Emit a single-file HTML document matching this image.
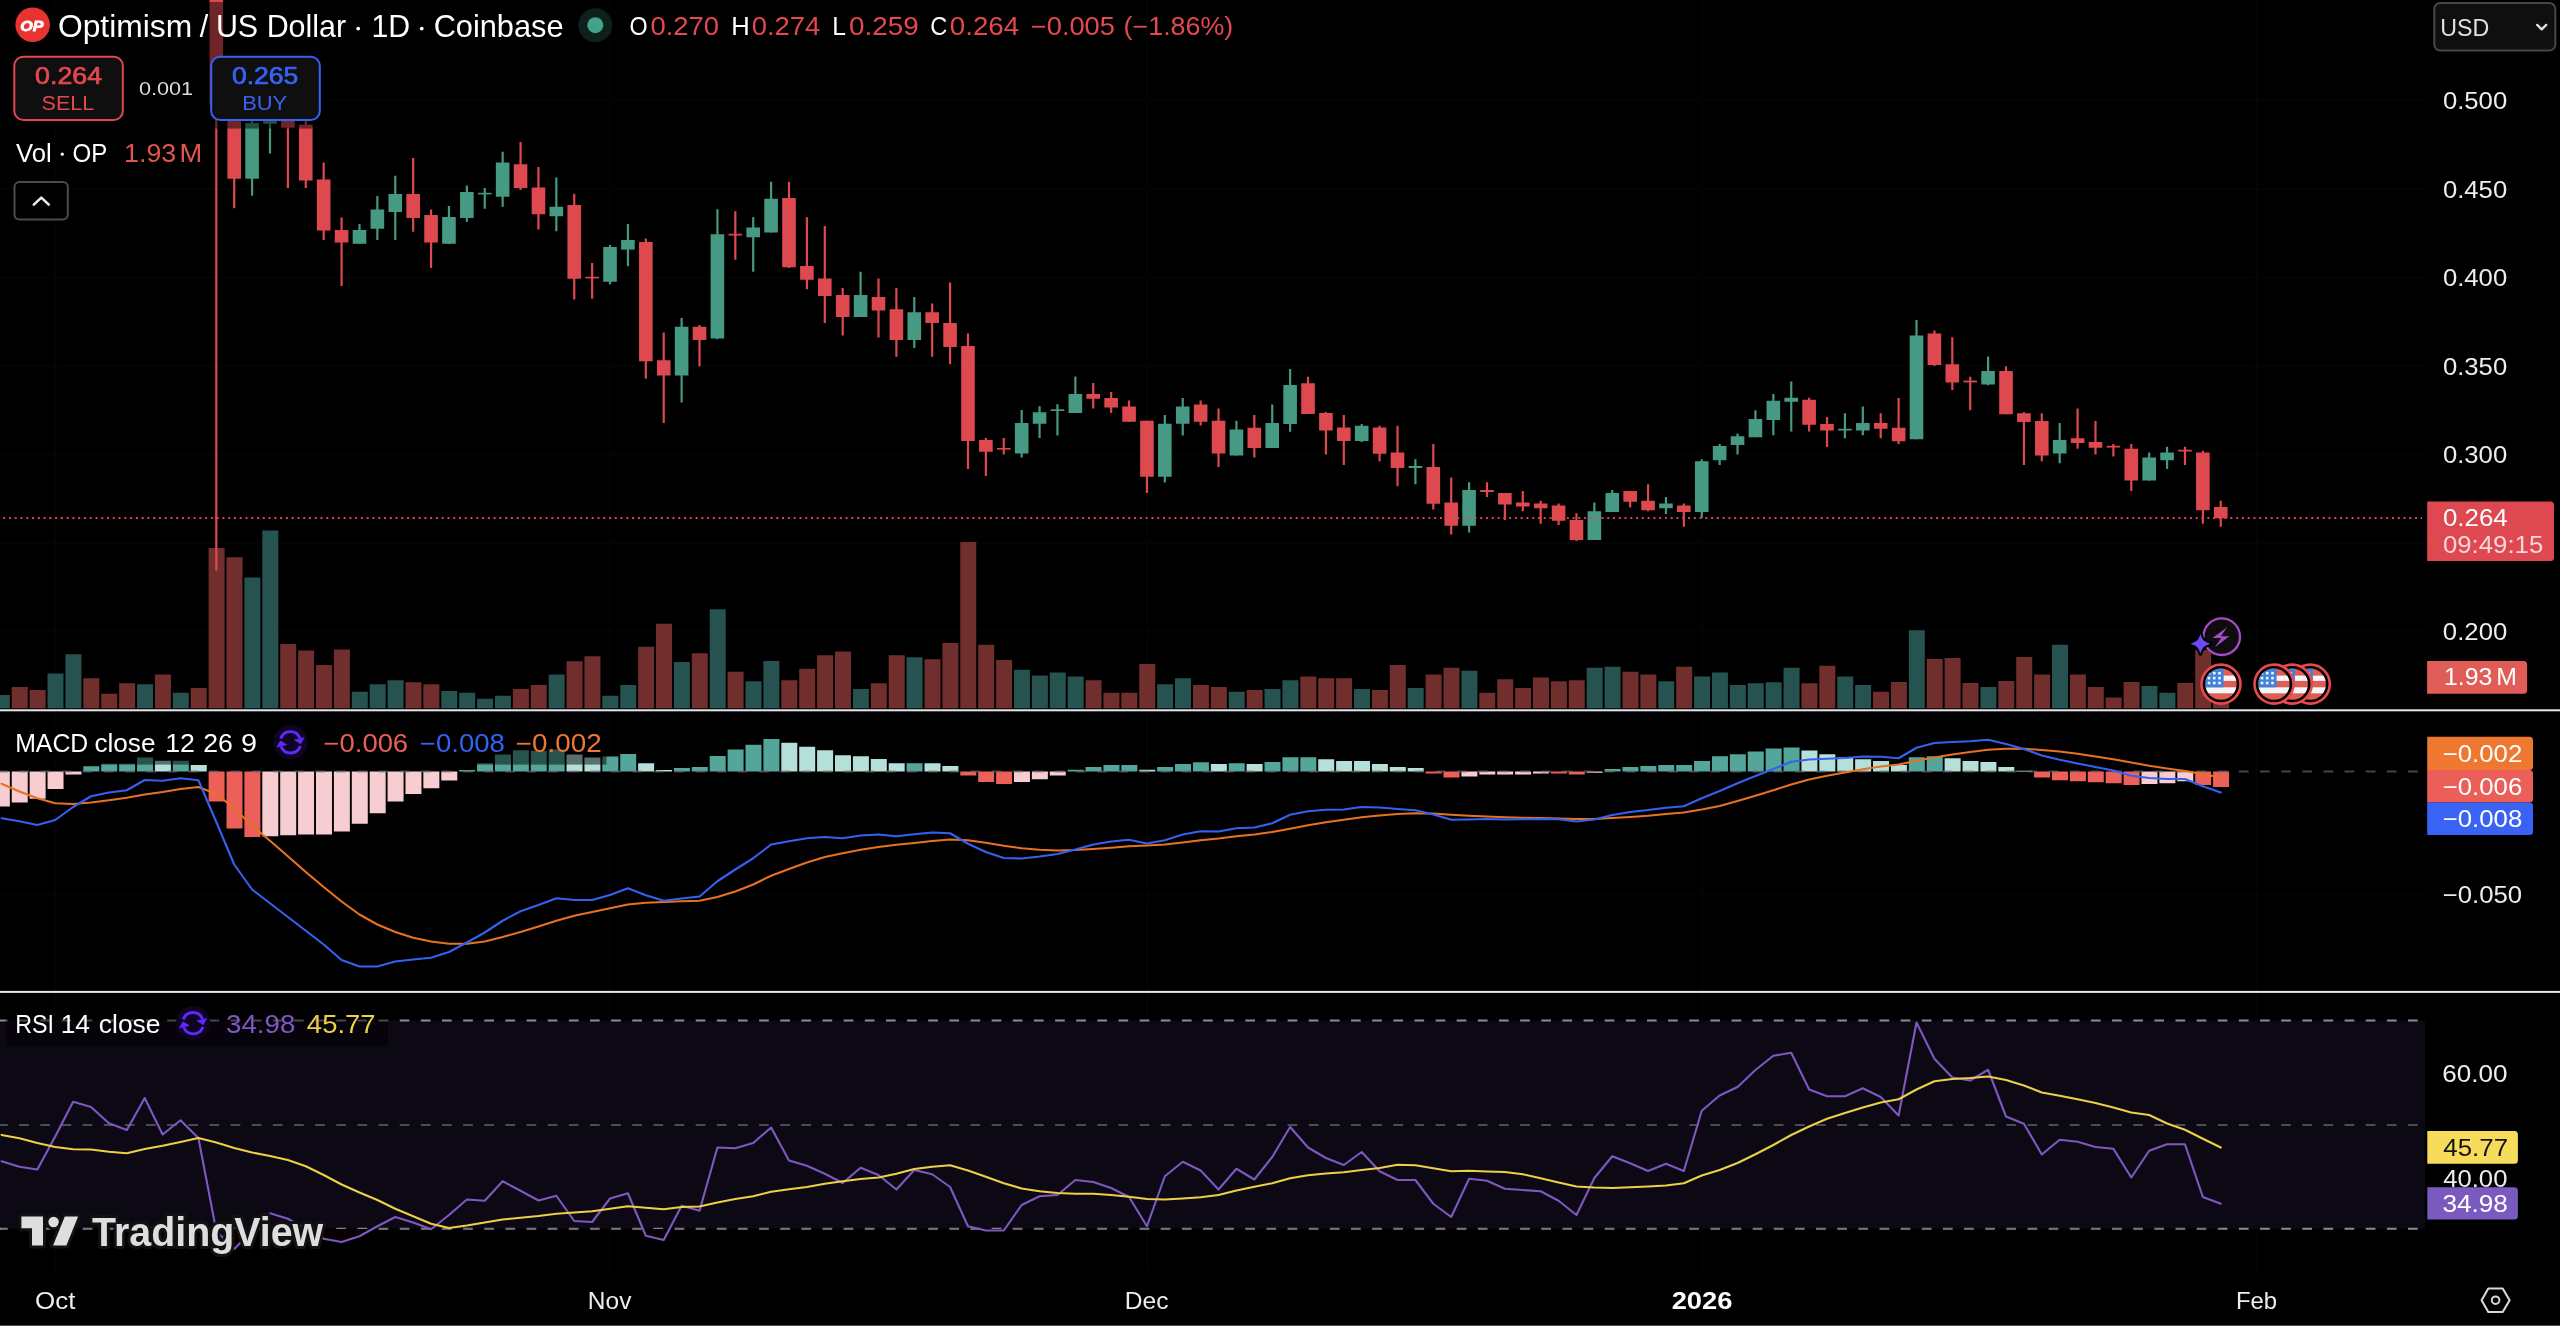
<!DOCTYPE html>
<html><head><meta charset="utf-8"><title>OPUSD chart</title>
<style>html,body{margin:0;padding:0;background:#000;width:2560px;height:1330px;overflow:hidden}svg{display:block;position:absolute;left:0;top:0;will-change:transform}text{font-family:"Liberation Sans",sans-serif;white-space:pre}</style>
</head><body>
<svg width="2560" height="1330" viewBox="0 0 2560 1330" font-family="Liberation Sans, sans-serif">
<rect width="2560" height="1330" fill="#000"/>
<g stroke="#030504" stroke-width="2"><line x1="0" x2="2425" y1="100.6" y2="100.6"/><line x1="0" x2="2425" y1="189.1" y2="189.1"/><line x1="0" x2="2425" y1="277.6" y2="277.6"/><line x1="0" x2="2425" y1="366.1" y2="366.1"/><line x1="0" x2="2425" y1="454.6" y2="454.6"/><line x1="0" x2="2425" y1="543.1" y2="543.1"/><line x1="0" x2="2425" y1="631.6" y2="631.6"/><line x1="0" x2="2425" y1="895.5" y2="895.5"/><line x1="0" x2="2425" y1="1073" y2="1073"/><line x1="0" x2="2425" y1="1177" y2="1177"/><line x1="55.23" x2="55.23" y1="0" y2="1270"/><line x1="610.03" x2="610.03" y1="0" y2="1270"/><line x1="1146.94" x2="1146.94" y1="0" y2="1270"/><line x1="1701.75" x2="1701.75" y1="0" y2="1270"/><line x1="2256.56" x2="2256.56" y1="0" y2="1270"/></g>
<rect x="0" y="1020.6" width="2425.3" height="208.1" fill="#0c0914"/>
<g><rect x="-6.16" y="695" width="16" height="13.3" fill="#265250"/><rect x="11.73" y="687" width="16" height="21.3" fill="#702e2c"/><rect x="29.63" y="690" width="16" height="18.3" fill="#702e2c"/><rect x="47.53" y="673.5" width="16" height="34.8" fill="#265250"/><rect x="65.42" y="654.25" width="16" height="54.05" fill="#265250"/><rect x="83.32" y="678.25" width="16" height="30.05" fill="#702e2c"/><rect x="101.22" y="693.75" width="16" height="14.55" fill="#702e2c"/><rect x="119.12" y="683.25" width="16" height="25.05" fill="#702e2c"/><rect x="137.01" y="684.25" width="16" height="24.05" fill="#265250"/><rect x="154.91" y="674.5" width="16" height="33.8" fill="#702e2c"/><rect x="172.81" y="692.75" width="16" height="15.55" fill="#265250"/><rect x="190.7" y="688" width="16" height="20.3" fill="#702e2c"/><rect x="208.6" y="548" width="16" height="160.3" fill="#702e2c"/><rect x="226.5" y="557.25" width="16" height="151.05" fill="#702e2c"/><rect x="244.39" y="577.5" width="16" height="130.8" fill="#265250"/><rect x="262.29" y="530.5" width="16" height="177.8" fill="#265250"/><rect x="280.19" y="644" width="16" height="64.3" fill="#702e2c"/><rect x="298.08" y="650.5" width="16" height="57.8" fill="#702e2c"/><rect x="315.98" y="665" width="16" height="43.3" fill="#702e2c"/><rect x="333.88" y="649.5" width="16" height="58.8" fill="#702e2c"/><rect x="351.78" y="691.75" width="16" height="16.55" fill="#265250"/><rect x="369.67" y="684.25" width="16" height="24.05" fill="#265250"/><rect x="387.57" y="680.25" width="16" height="28.05" fill="#265250"/><rect x="405.47" y="682.25" width="16" height="26.05" fill="#702e2c"/><rect x="423.36" y="684.25" width="16" height="24.05" fill="#702e2c"/><rect x="441.26" y="691" width="16" height="17.3" fill="#265250"/><rect x="459.16" y="692.75" width="16" height="15.55" fill="#265250"/><rect x="477.06" y="698.75" width="16" height="9.55" fill="#265250"/><rect x="494.95" y="695.75" width="16" height="12.55" fill="#265250"/><rect x="512.85" y="689" width="16" height="19.3" fill="#702e2c"/><rect x="530.75" y="685" width="16" height="23.3" fill="#702e2c"/><rect x="548.64" y="674.5" width="16" height="33.8" fill="#265250"/><rect x="566.54" y="661.25" width="16" height="47.05" fill="#702e2c"/><rect x="584.44" y="656.25" width="16" height="52.05" fill="#702e2c"/><rect x="602.33" y="695.75" width="16" height="12.55" fill="#265250"/><rect x="620.23" y="685" width="16" height="23.3" fill="#265250"/><rect x="638.13" y="646.75" width="16" height="61.55" fill="#702e2c"/><rect x="656.02" y="623.75" width="16" height="84.55" fill="#702e2c"/><rect x="673.92" y="662" width="16" height="46.3" fill="#265250"/><rect x="691.82" y="653.25" width="16" height="55.05" fill="#702e2c"/><rect x="709.72" y="609.25" width="16" height="99.05" fill="#265250"/><rect x="727.61" y="671.75" width="16" height="36.55" fill="#702e2c"/><rect x="745.51" y="681.25" width="16" height="27.05" fill="#265250"/><rect x="763.41" y="661" width="16" height="47.3" fill="#265250"/><rect x="781.3" y="680.25" width="16" height="28.05" fill="#702e2c"/><rect x="799.2" y="668.75" width="16" height="39.55" fill="#702e2c"/><rect x="817.1" y="655.25" width="16" height="53.05" fill="#702e2c"/><rect x="834.99" y="651.5" width="16" height="56.8" fill="#702e2c"/><rect x="852.89" y="689" width="16" height="19.3" fill="#265250"/><rect x="870.79" y="683.25" width="16" height="25.05" fill="#702e2c"/><rect x="888.69" y="655.25" width="16" height="53.05" fill="#702e2c"/><rect x="906.58" y="657.25" width="16" height="51.05" fill="#265250"/><rect x="924.48" y="659.25" width="16" height="49.05" fill="#702e2c"/><rect x="942.38" y="643" width="16" height="65.3" fill="#702e2c"/><rect x="960.27" y="542" width="16" height="166.3" fill="#702e2c"/><rect x="978.17" y="644.75" width="16" height="63.55" fill="#702e2c"/><rect x="996.07" y="660" width="16" height="48.3" fill="#702e2c"/><rect x="1013.96" y="669.75" width="16" height="38.55" fill="#265250"/><rect x="1031.86" y="675.5" width="16" height="32.8" fill="#265250"/><rect x="1049.76" y="672.5" width="16" height="35.8" fill="#265250"/><rect x="1067.66" y="676.5" width="16" height="31.8" fill="#265250"/><rect x="1085.55" y="680.25" width="16" height="28.05" fill="#702e2c"/><rect x="1103.45" y="692.75" width="16" height="15.55" fill="#702e2c"/><rect x="1121.35" y="692.75" width="16" height="15.55" fill="#702e2c"/><rect x="1139.24" y="664" width="16" height="44.3" fill="#702e2c"/><rect x="1157.14" y="684.25" width="16" height="24.05" fill="#265250"/><rect x="1175.04" y="678.25" width="16" height="30.05" fill="#265250"/><rect x="1192.93" y="685" width="16" height="23.3" fill="#702e2c"/><rect x="1210.83" y="687" width="16" height="21.3" fill="#702e2c"/><rect x="1228.73" y="691.75" width="16" height="16.55" fill="#265250"/><rect x="1246.63" y="690" width="16" height="18.3" fill="#702e2c"/><rect x="1264.52" y="689" width="16" height="19.3" fill="#265250"/><rect x="1282.42" y="680.25" width="16" height="28.05" fill="#265250"/><rect x="1300.32" y="676.5" width="16" height="31.8" fill="#702e2c"/><rect x="1318.21" y="678.25" width="16" height="30.05" fill="#702e2c"/><rect x="1336.11" y="678.25" width="16" height="30.05" fill="#702e2c"/><rect x="1354.01" y="689" width="16" height="19.3" fill="#265250"/><rect x="1371.9" y="690" width="16" height="18.3" fill="#702e2c"/><rect x="1389.8" y="665" width="16" height="43.3" fill="#702e2c"/><rect x="1407.7" y="688" width="16" height="20.3" fill="#265250"/><rect x="1425.6" y="674.5" width="16" height="33.8" fill="#702e2c"/><rect x="1443.49" y="667.75" width="16" height="40.55" fill="#702e2c"/><rect x="1461.39" y="670.75" width="16" height="37.55" fill="#265250"/><rect x="1479.29" y="692.75" width="16" height="15.55" fill="#702e2c"/><rect x="1497.18" y="679.25" width="16" height="29.05" fill="#702e2c"/><rect x="1515.08" y="688" width="16" height="20.3" fill="#702e2c"/><rect x="1532.98" y="677.5" width="16" height="30.8" fill="#702e2c"/><rect x="1550.87" y="681.25" width="16" height="27.05" fill="#702e2c"/><rect x="1568.77" y="680.25" width="16" height="28.05" fill="#702e2c"/><rect x="1586.67" y="667.75" width="16" height="40.55" fill="#265250"/><rect x="1604.57" y="666.75" width="16" height="41.55" fill="#265250"/><rect x="1622.46" y="671.75" width="16" height="36.55" fill="#702e2c"/><rect x="1640.36" y="674.5" width="16" height="33.8" fill="#702e2c"/><rect x="1658.26" y="681.25" width="16" height="27.05" fill="#265250"/><rect x="1676.15" y="666.75" width="16" height="41.55" fill="#702e2c"/><rect x="1694.05" y="676.5" width="16" height="31.8" fill="#265250"/><rect x="1711.95" y="672.5" width="16" height="35.8" fill="#265250"/><rect x="1729.84" y="685" width="16" height="23.3" fill="#265250"/><rect x="1747.74" y="683.25" width="16" height="25.05" fill="#265250"/><rect x="1765.64" y="682.25" width="16" height="26.05" fill="#265250"/><rect x="1783.54" y="667.75" width="16" height="40.55" fill="#265250"/><rect x="1801.43" y="683.25" width="16" height="25.05" fill="#702e2c"/><rect x="1819.33" y="665.75" width="16" height="42.55" fill="#702e2c"/><rect x="1837.23" y="676.5" width="16" height="31.8" fill="#265250"/><rect x="1855.12" y="685" width="16" height="23.3" fill="#265250"/><rect x="1873.02" y="691.75" width="16" height="16.55" fill="#702e2c"/><rect x="1890.92" y="682" width="16" height="26.3" fill="#702e2c"/><rect x="1908.81" y="630.25" width="16" height="78.05" fill="#265250"/><rect x="1926.71" y="659" width="16" height="49.3" fill="#702e2c"/><rect x="1944.61" y="658" width="16" height="50.3" fill="#702e2c"/><rect x="1962.51" y="683" width="16" height="25.3" fill="#702e2c"/><rect x="1980.4" y="687" width="16" height="21.3" fill="#265250"/><rect x="1998.3" y="681" width="16" height="27.3" fill="#702e2c"/><rect x="2016.2" y="657" width="16" height="51.3" fill="#702e2c"/><rect x="2034.09" y="674.5" width="16" height="33.8" fill="#702e2c"/><rect x="2051.99" y="644.75" width="16" height="63.55" fill="#265250"/><rect x="2069.89" y="674.5" width="16" height="33.8" fill="#702e2c"/><rect x="2087.79" y="687" width="16" height="21.3" fill="#702e2c"/><rect x="2105.68" y="697.5" width="16" height="10.8" fill="#702e2c"/><rect x="2123.58" y="682" width="16" height="26.3" fill="#702e2c"/><rect x="2141.48" y="686" width="16" height="22.3" fill="#265250"/><rect x="2159.37" y="692.75" width="16" height="15.55" fill="#265250"/><rect x="2177.27" y="683" width="16" height="25.3" fill="#702e2c"/><rect x="2195.17" y="650" width="16" height="58.3" fill="#702e2c"/><rect x="2213.06" y="677" width="16" height="31.3" fill="#702e2c"/></g>
<g><rect x="215.2" y="0" width="2.2" height="570.75" fill="#de4950"/><rect x="209.5" y="0" width="13.6" height="104.8" fill="#de4950"/><rect x="233.1" y="92" width="2.2" height="116.2" fill="#de4950"/><rect x="227.4" y="100" width="13.6" height="78.75" fill="#de4950"/><rect x="250.99" y="108" width="2.2" height="87.6" fill="#469a83"/><rect x="245.29" y="123.1" width="13.6" height="55.6" fill="#469a83"/><rect x="268.89" y="104" width="2.2" height="49.6" fill="#469a83"/><rect x="263.19" y="112" width="13.6" height="11.8" fill="#469a83"/><rect x="286.79" y="98" width="2.2" height="90" fill="#de4950"/><rect x="281.09" y="105" width="13.6" height="22.7" fill="#de4950"/><rect x="304.68" y="114" width="2.2" height="74" fill="#de4950"/><rect x="298.98" y="124.6" width="13.6" height="55.9" fill="#de4950"/><rect x="322.58" y="162.5" width="2.2" height="77.5" fill="#de4950"/><rect x="316.88" y="179.5" width="13.6" height="51" fill="#de4950"/><rect x="340.48" y="217.5" width="2.2" height="68.5" fill="#de4950"/><rect x="334.78" y="230" width="13.6" height="12.5" fill="#de4950"/><rect x="358.38" y="224" width="2.2" height="19.75" fill="#469a83"/><rect x="352.68" y="230" width="13.6" height="13.75" fill="#469a83"/><rect x="376.27" y="196" width="2.2" height="44" fill="#469a83"/><rect x="370.57" y="209.5" width="13.6" height="19.25" fill="#469a83"/><rect x="394.17" y="175.75" width="2.2" height="64.25" fill="#469a83"/><rect x="388.47" y="194" width="13.6" height="18" fill="#469a83"/><rect x="412.07" y="158" width="2.2" height="73.75" fill="#de4950"/><rect x="406.37" y="194" width="13.6" height="24" fill="#de4950"/><rect x="429.96" y="209.5" width="2.2" height="58.5" fill="#de4950"/><rect x="424.26" y="215" width="13.6" height="27.5" fill="#de4950"/><rect x="447.86" y="206" width="2.2" height="37.75" fill="#469a83"/><rect x="442.16" y="217" width="13.6" height="26.75" fill="#469a83"/><rect x="465.76" y="185.5" width="2.2" height="36.25" fill="#469a83"/><rect x="460.06" y="192" width="13.6" height="26" fill="#469a83"/><rect x="483.65" y="188" width="2.2" height="20.75" fill="#469a83"/><rect x="477.95" y="192.8" width="13.6" height="1.6" fill="#469a83"/><rect x="501.55" y="151.75" width="2.2" height="55" fill="#469a83"/><rect x="495.85" y="162.5" width="13.6" height="34.25" fill="#469a83"/><rect x="519.45" y="142" width="2.2" height="48" fill="#de4950"/><rect x="513.75" y="164.25" width="13.6" height="23.75" fill="#de4950"/><rect x="537.35" y="167" width="2.2" height="62.5" fill="#de4950"/><rect x="531.65" y="187.5" width="13.6" height="26.75" fill="#de4950"/><rect x="555.24" y="177.5" width="2.2" height="53.75" fill="#469a83"/><rect x="549.54" y="206.75" width="13.6" height="9.5" fill="#469a83"/><rect x="573.14" y="193.75" width="2.2" height="105.75" fill="#de4950"/><rect x="567.44" y="205" width="13.6" height="73.75" fill="#de4950"/><rect x="591.04" y="263" width="2.2" height="35.75" fill="#de4950"/><rect x="585.34" y="276.8" width="13.6" height="1.6" fill="#de4950"/><rect x="608.93" y="245" width="2.2" height="39.25" fill="#469a83"/><rect x="603.23" y="247" width="13.6" height="34.75" fill="#469a83"/><rect x="626.83" y="224" width="2.2" height="42.1" fill="#469a83"/><rect x="621.13" y="240" width="13.6" height="9.6" fill="#469a83"/><rect x="644.73" y="238.5" width="2.2" height="140.25" fill="#de4950"/><rect x="639.03" y="242" width="13.6" height="119.25" fill="#de4950"/><rect x="662.62" y="332.5" width="2.2" height="90.5" fill="#de4950"/><rect x="656.92" y="360.25" width="13.6" height="15.25" fill="#de4950"/><rect x="680.52" y="318" width="2.2" height="84.5" fill="#469a83"/><rect x="674.82" y="326.75" width="13.6" height="48.75" fill="#469a83"/><rect x="698.42" y="325" width="2.2" height="41.25" fill="#de4950"/><rect x="692.72" y="326.75" width="13.6" height="13.25" fill="#de4950"/><rect x="716.32" y="209.25" width="2.2" height="130" fill="#469a83"/><rect x="710.62" y="234.25" width="13.6" height="104.25" fill="#469a83"/><rect x="734.21" y="211.25" width="2.2" height="48.5" fill="#de4950"/><rect x="728.51" y="233.8" width="13.6" height="1.7" fill="#de4950"/><rect x="752.11" y="217.25" width="2.2" height="54.5" fill="#469a83"/><rect x="746.41" y="227.5" width="13.6" height="9.75" fill="#469a83"/><rect x="770.01" y="181.75" width="2.2" height="50.75" fill="#469a83"/><rect x="764.31" y="198.75" width="13.6" height="33.75" fill="#469a83"/><rect x="787.9" y="181.75" width="2.2" height="86.25" fill="#de4950"/><rect x="782.2" y="198" width="13.6" height="69.25" fill="#de4950"/><rect x="805.8" y="217.25" width="2.2" height="72" fill="#de4950"/><rect x="800.1" y="266" width="13.6" height="13.75" fill="#de4950"/><rect x="823.7" y="226" width="2.2" height="97" fill="#de4950"/><rect x="818" y="278.5" width="13.6" height="17.5" fill="#de4950"/><rect x="841.59" y="288" width="2.2" height="47.5" fill="#de4950"/><rect x="835.89" y="295" width="13.6" height="22" fill="#de4950"/><rect x="859.49" y="271.75" width="2.2" height="45.25" fill="#469a83"/><rect x="853.79" y="295" width="13.6" height="22" fill="#469a83"/><rect x="877.39" y="278.5" width="2.2" height="59" fill="#de4950"/><rect x="871.69" y="297" width="13.6" height="13.5" fill="#de4950"/><rect x="895.29" y="288" width="2.2" height="68.75" fill="#de4950"/><rect x="889.59" y="309.25" width="13.6" height="30.75" fill="#de4950"/><rect x="913.18" y="297" width="2.2" height="51" fill="#469a83"/><rect x="907.48" y="312.25" width="13.6" height="27.75" fill="#469a83"/><rect x="931.08" y="303.5" width="2.2" height="53.25" fill="#de4950"/><rect x="925.38" y="312.25" width="13.6" height="10.75" fill="#de4950"/><rect x="948.98" y="282.5" width="2.2" height="81.75" fill="#de4950"/><rect x="943.28" y="323" width="13.6" height="24" fill="#de4950"/><rect x="966.87" y="333.5" width="2.2" height="135.5" fill="#de4950"/><rect x="961.17" y="346" width="13.6" height="95" fill="#de4950"/><rect x="984.77" y="438" width="2.2" height="38" fill="#de4950"/><rect x="979.07" y="440" width="13.6" height="11.75" fill="#de4950"/><rect x="1002.67" y="438" width="2.2" height="16.5" fill="#de4950"/><rect x="996.97" y="448" width="13.6" height="1.6" fill="#de4950"/><rect x="1020.56" y="410" width="2.2" height="47.5" fill="#469a83"/><rect x="1014.87" y="423" width="13.6" height="30.5" fill="#469a83"/><rect x="1038.46" y="406.25" width="2.2" height="31.75" fill="#469a83"/><rect x="1032.76" y="412.25" width="13.6" height="11.5" fill="#469a83"/><rect x="1056.36" y="404.25" width="2.2" height="31.25" fill="#469a83"/><rect x="1050.66" y="409.3" width="13.6" height="1.7" fill="#469a83"/><rect x="1074.26" y="376.5" width="2.2" height="36.5" fill="#469a83"/><rect x="1068.56" y="394" width="13.6" height="19" fill="#469a83"/><rect x="1092.15" y="383" width="2.2" height="25.5" fill="#de4950"/><rect x="1086.45" y="394" width="13.6" height="4.75" fill="#de4950"/><rect x="1110.05" y="392" width="2.2" height="21" fill="#de4950"/><rect x="1104.35" y="398" width="13.6" height="9.5" fill="#de4950"/><rect x="1127.95" y="400.5" width="2.2" height="21.25" fill="#de4950"/><rect x="1122.25" y="406.5" width="13.6" height="15.25" fill="#de4950"/><rect x="1145.84" y="420.75" width="2.2" height="72.25" fill="#de4950"/><rect x="1140.14" y="420.75" width="13.6" height="56" fill="#de4950"/><rect x="1163.74" y="415" width="2.2" height="67.5" fill="#469a83"/><rect x="1158.04" y="423.75" width="13.6" height="53" fill="#469a83"/><rect x="1181.64" y="398" width="2.2" height="37.5" fill="#469a83"/><rect x="1175.94" y="406.5" width="13.6" height="17.25" fill="#469a83"/><rect x="1199.54" y="400.5" width="2.2" height="25" fill="#de4950"/><rect x="1193.84" y="404.5" width="13.6" height="17.25" fill="#de4950"/><rect x="1217.43" y="408.5" width="2.2" height="58.5" fill="#de4950"/><rect x="1211.73" y="420.75" width="13.6" height="32.75" fill="#de4950"/><rect x="1235.33" y="420.75" width="2.2" height="34.75" fill="#469a83"/><rect x="1229.63" y="429.5" width="13.6" height="26" fill="#469a83"/><rect x="1253.23" y="415" width="2.2" height="42.5" fill="#de4950"/><rect x="1247.53" y="427.75" width="13.6" height="20.25" fill="#de4950"/><rect x="1271.12" y="404.5" width="2.2" height="43.5" fill="#469a83"/><rect x="1265.42" y="423" width="13.6" height="25" fill="#469a83"/><rect x="1289.02" y="369" width="2.2" height="62.75" fill="#469a83"/><rect x="1283.32" y="385" width="13.6" height="39" fill="#469a83"/><rect x="1306.92" y="376.75" width="2.2" height="37.25" fill="#de4950"/><rect x="1301.22" y="383.25" width="13.6" height="30.75" fill="#de4950"/><rect x="1324.81" y="412" width="2.2" height="42.5" fill="#de4950"/><rect x="1319.11" y="413" width="13.6" height="17.5" fill="#de4950"/><rect x="1342.71" y="415" width="2.2" height="50" fill="#de4950"/><rect x="1337.01" y="427.5" width="13.6" height="13.5" fill="#de4950"/><rect x="1360.61" y="424" width="2.2" height="18" fill="#469a83"/><rect x="1354.91" y="425.75" width="13.6" height="15.25" fill="#469a83"/><rect x="1378.5" y="425.75" width="2.2" height="35.5" fill="#de4950"/><rect x="1372.8" y="427.5" width="13.6" height="26.25" fill="#de4950"/><rect x="1396.4" y="425.75" width="2.2" height="60.5" fill="#de4950"/><rect x="1390.7" y="452.5" width="13.6" height="15.5" fill="#de4950"/><rect x="1414.3" y="459.25" width="2.2" height="25" fill="#469a83"/><rect x="1408.6" y="466" width="13.6" height="2" fill="#469a83"/><rect x="1432.2" y="444" width="2.2" height="65.5" fill="#de4950"/><rect x="1426.5" y="467" width="13.6" height="36.75" fill="#de4950"/><rect x="1450.09" y="477.5" width="2.2" height="57" fill="#de4950"/><rect x="1444.39" y="502.5" width="13.6" height="23.25" fill="#de4950"/><rect x="1467.99" y="482.25" width="2.2" height="50.25" fill="#469a83"/><rect x="1462.29" y="490" width="13.6" height="35.75" fill="#469a83"/><rect x="1485.89" y="482.25" width="2.2" height="14.75" fill="#de4950"/><rect x="1480.19" y="490" width="13.6" height="2" fill="#de4950"/><rect x="1503.78" y="493" width="2.2" height="27" fill="#de4950"/><rect x="1498.08" y="493" width="13.6" height="11.5" fill="#de4950"/><rect x="1521.68" y="491" width="2.2" height="20.25" fill="#de4950"/><rect x="1515.98" y="502.5" width="13.6" height="4" fill="#de4950"/><rect x="1539.58" y="500.75" width="2.2" height="23" fill="#de4950"/><rect x="1533.88" y="503.5" width="13.6" height="4.75" fill="#de4950"/><rect x="1557.47" y="503.5" width="2.2" height="21.5" fill="#de4950"/><rect x="1551.77" y="505.5" width="13.6" height="15.25" fill="#de4950"/><rect x="1575.37" y="513.25" width="2.2" height="27.75" fill="#de4950"/><rect x="1569.67" y="520" width="13.6" height="20" fill="#de4950"/><rect x="1593.27" y="502.5" width="2.2" height="37.5" fill="#469a83"/><rect x="1587.57" y="511.25" width="13.6" height="28.75" fill="#469a83"/><rect x="1611.17" y="490" width="2.2" height="22" fill="#469a83"/><rect x="1605.47" y="493" width="13.6" height="19" fill="#469a83"/><rect x="1629.06" y="491" width="2.2" height="16.5" fill="#de4950"/><rect x="1623.36" y="491" width="13.6" height="10.75" fill="#de4950"/><rect x="1646.96" y="484.25" width="2.2" height="27" fill="#de4950"/><rect x="1641.26" y="500.75" width="13.6" height="9.5" fill="#de4950"/><rect x="1664.86" y="497" width="2.2" height="17" fill="#469a83"/><rect x="1659.16" y="503.5" width="13.6" height="4.75" fill="#469a83"/><rect x="1682.75" y="503.5" width="2.2" height="23.25" fill="#de4950"/><rect x="1677.05" y="505.5" width="13.6" height="6.5" fill="#de4950"/><rect x="1700.65" y="459.25" width="2.2" height="58.75" fill="#469a83"/><rect x="1694.95" y="461.25" width="13.6" height="50.75" fill="#469a83"/><rect x="1718.55" y="444" width="2.2" height="21" fill="#469a83"/><rect x="1712.85" y="446" width="13.6" height="14.25" fill="#469a83"/><rect x="1736.44" y="433.5" width="2.2" height="21" fill="#469a83"/><rect x="1730.74" y="436.25" width="13.6" height="8.75" fill="#469a83"/><rect x="1754.34" y="410.25" width="2.2" height="27" fill="#469a83"/><rect x="1748.64" y="419" width="13.6" height="18.25" fill="#469a83"/><rect x="1772.24" y="394" width="2.2" height="41.25" fill="#469a83"/><rect x="1766.54" y="400.75" width="13.6" height="19.25" fill="#469a83"/><rect x="1790.14" y="381.5" width="2.2" height="50" fill="#469a83"/><rect x="1784.44" y="397.75" width="13.6" height="4" fill="#469a83"/><rect x="1808.03" y="397.75" width="2.2" height="33.75" fill="#de4950"/><rect x="1802.33" y="399.75" width="13.6" height="25" fill="#de4950"/><rect x="1825.93" y="417" width="2.2" height="30" fill="#de4950"/><rect x="1820.23" y="424" width="13.6" height="6.5" fill="#de4950"/><rect x="1843.83" y="413.25" width="2.2" height="25" fill="#469a83"/><rect x="1838.13" y="428.8" width="13.6" height="1.7" fill="#469a83"/><rect x="1861.72" y="406.5" width="2.2" height="28.75" fill="#469a83"/><rect x="1856.02" y="423" width="13.6" height="7.5" fill="#469a83"/><rect x="1879.62" y="413.25" width="2.2" height="25" fill="#de4950"/><rect x="1873.92" y="423" width="13.6" height="5.75" fill="#de4950"/><rect x="1897.52" y="398" width="2.2" height="46" fill="#de4950"/><rect x="1891.82" y="427.75" width="13.6" height="13.5" fill="#de4950"/><rect x="1915.41" y="320" width="2.2" height="119.25" fill="#469a83"/><rect x="1909.71" y="335.5" width="13.6" height="103.75" fill="#469a83"/><rect x="1933.31" y="330.5" width="2.2" height="35.5" fill="#de4950"/><rect x="1927.61" y="333.5" width="13.6" height="31.5" fill="#de4950"/><rect x="1951.21" y="337.25" width="2.2" height="52.75" fill="#de4950"/><rect x="1945.51" y="364.25" width="13.6" height="18.25" fill="#de4950"/><rect x="1969.11" y="376.75" width="2.2" height="33.5" fill="#de4950"/><rect x="1963.41" y="380.6" width="13.6" height="1.8" fill="#de4950"/><rect x="1987" y="356.5" width="2.2" height="28.75" fill="#469a83"/><rect x="1981.3" y="371" width="13.6" height="13.5" fill="#469a83"/><rect x="2004.9" y="366.25" width="2.2" height="48" fill="#de4950"/><rect x="1999.2" y="371" width="13.6" height="43.25" fill="#de4950"/><rect x="2022.8" y="412.25" width="2.2" height="52.75" fill="#de4950"/><rect x="2017.1" y="413.25" width="13.6" height="8.75" fill="#de4950"/><rect x="2040.69" y="413.25" width="2.2" height="48" fill="#de4950"/><rect x="2034.99" y="421" width="13.6" height="34.5" fill="#de4950"/><rect x="2058.59" y="423" width="2.2" height="40.25" fill="#469a83"/><rect x="2052.89" y="440" width="13.6" height="13.5" fill="#469a83"/><rect x="2076.49" y="408.5" width="2.2" height="40.25" fill="#de4950"/><rect x="2070.79" y="438.25" width="13.6" height="4.75" fill="#de4950"/><rect x="2094.39" y="421" width="2.2" height="33.5" fill="#de4950"/><rect x="2088.68" y="442" width="13.6" height="5.75" fill="#de4950"/><rect x="2112.28" y="444" width="2.2" height="12.5" fill="#de4950"/><rect x="2106.58" y="445.8" width="13.6" height="1.7" fill="#de4950"/><rect x="2130.18" y="444" width="2.2" height="47" fill="#de4950"/><rect x="2124.48" y="448.75" width="13.6" height="31.75" fill="#de4950"/><rect x="2148.08" y="452.5" width="2.2" height="28" fill="#469a83"/><rect x="2142.38" y="457.5" width="13.6" height="23" fill="#469a83"/><rect x="2165.97" y="446.75" width="2.2" height="22.25" fill="#469a83"/><rect x="2160.27" y="452.5" width="13.6" height="7.75" fill="#469a83"/><rect x="2183.87" y="446.75" width="2.2" height="18.25" fill="#de4950"/><rect x="2178.17" y="449.8" width="13.6" height="1.7" fill="#de4950"/><rect x="2201.77" y="450.75" width="2.2" height="73" fill="#de4950"/><rect x="2196.07" y="452.5" width="13.6" height="57.75" fill="#de4950"/><rect x="2219.66" y="500.75" width="2.2" height="26" fill="#de4950"/><rect x="2213.96" y="507" width="13.6" height="11.25" fill="#de4950"/></g>
<line x1="3.2" x2="2422" y1="518" y2="518" stroke="#de4950" stroke-width="2" stroke-dasharray="1.92 3.85"/>
<g><rect x="-6.16" y="771.5" width="16" height="35" fill="#f8cdd2"/><rect x="11.73" y="771.5" width="16" height="31" fill="#f8cdd2"/><rect x="29.63" y="771.5" width="16" height="27.25" fill="#f8cdd2"/><rect x="47.53" y="771.5" width="16" height="17.5" fill="#f8cdd2"/><rect x="65.42" y="771.5" width="16" height="3" fill="#f8cdd2"/><rect x="83.32" y="766.25" width="16" height="5.25" fill="#54a69a"/><rect x="101.22" y="763.75" width="16" height="7.75" fill="#54a69a"/><rect x="119.12" y="763.75" width="16" height="7.75" fill="#54a69a"/><rect x="137.01" y="757.5" width="16" height="14" fill="#54a69a"/><rect x="154.91" y="760.75" width="16" height="10.75" fill="#b5e0da"/><rect x="172.81" y="760.75" width="16" height="10.75" fill="#54a69a"/><rect x="190.7" y="765" width="16" height="6.5" fill="#b5e0da"/><rect x="208.6" y="771.5" width="16" height="30" fill="#ec6059"/><rect x="226.5" y="771.5" width="16" height="57" fill="#ec6059"/><rect x="244.39" y="771.5" width="16" height="65.5" fill="#ec6059"/><rect x="262.29" y="771.5" width="16" height="64.75" fill="#f8cdd2"/><rect x="280.19" y="771.5" width="16" height="63.75" fill="#f8cdd2"/><rect x="298.08" y="771.5" width="16" height="63" fill="#f8cdd2"/><rect x="315.98" y="771.5" width="16" height="63" fill="#f8cdd2"/><rect x="333.88" y="771.5" width="16" height="60" fill="#f8cdd2"/><rect x="351.78" y="771.5" width="16" height="52.25" fill="#f8cdd2"/><rect x="369.67" y="771.5" width="16" height="41.75" fill="#f8cdd2"/><rect x="387.57" y="771.5" width="16" height="30" fill="#f8cdd2"/><rect x="405.47" y="771.5" width="16" height="22.5" fill="#f8cdd2"/><rect x="423.36" y="771.5" width="16" height="16.75" fill="#f8cdd2"/><rect x="441.26" y="771.5" width="16" height="9" fill="#f8cdd2"/><rect x="459.16" y="770" width="16" height="1.5" fill="#54a69a"/><rect x="477.06" y="763.25" width="16" height="8.25" fill="#54a69a"/><rect x="494.95" y="754.5" width="16" height="17" fill="#54a69a"/><rect x="512.85" y="750.25" width="16" height="21.25" fill="#54a69a"/><rect x="530.75" y="750.75" width="16" height="20.75" fill="#54a69a"/><rect x="548.64" y="749.5" width="16" height="22" fill="#54a69a"/><rect x="566.54" y="754.5" width="16" height="17" fill="#b5e0da"/><rect x="584.44" y="757.5" width="16" height="14" fill="#b5e0da"/><rect x="602.33" y="756.5" width="16" height="15" fill="#54a69a"/><rect x="620.23" y="754" width="16" height="17.5" fill="#54a69a"/><rect x="638.13" y="763.25" width="16" height="8.25" fill="#b5e0da"/><rect x="656.02" y="770" width="16" height="1.5" fill="#b5e0da"/><rect x="673.92" y="768" width="16" height="3.5" fill="#54a69a"/><rect x="691.82" y="767" width="16" height="4.5" fill="#54a69a"/><rect x="709.72" y="756" width="16" height="15.5" fill="#54a69a"/><rect x="727.61" y="749.5" width="16" height="22" fill="#54a69a"/><rect x="745.51" y="744.75" width="16" height="26.75" fill="#54a69a"/><rect x="763.41" y="739" width="16" height="32.5" fill="#54a69a"/><rect x="781.3" y="742.75" width="16" height="28.75" fill="#b5e0da"/><rect x="799.2" y="746.75" width="16" height="24.75" fill="#b5e0da"/><rect x="817.1" y="750.25" width="16" height="21.25" fill="#b5e0da"/><rect x="834.99" y="755.25" width="16" height="16.25" fill="#b5e0da"/><rect x="852.89" y="756.25" width="16" height="15.25" fill="#b5e0da"/><rect x="870.79" y="759" width="16" height="12.5" fill="#b5e0da"/><rect x="888.69" y="763.25" width="16" height="8.25" fill="#b5e0da"/><rect x="906.58" y="763.25" width="16" height="8.25" fill="#54a69a"/><rect x="924.48" y="763.25" width="16" height="8.25" fill="#b5e0da"/><rect x="942.38" y="766" width="16" height="5.5" fill="#b5e0da"/><rect x="960.27" y="771.5" width="16" height="4" fill="#ec6059"/><rect x="978.17" y="771.5" width="16" height="10.5" fill="#ec6059"/><rect x="996.07" y="771.5" width="16" height="12.5" fill="#ec6059"/><rect x="1013.96" y="771.5" width="16" height="10.5" fill="#f8cdd2"/><rect x="1031.86" y="771.5" width="16" height="7.75" fill="#f8cdd2"/><rect x="1049.76" y="771.5" width="16" height="4" fill="#f8cdd2"/><rect x="1067.66" y="769.75" width="16" height="1.75" fill="#54a69a"/><rect x="1085.55" y="767" width="16" height="4.5" fill="#54a69a"/><rect x="1103.45" y="765" width="16" height="6.5" fill="#54a69a"/><rect x="1121.35" y="765" width="16" height="6.5" fill="#54a69a"/><rect x="1139.24" y="769.75" width="16" height="1.75" fill="#b5e0da"/><rect x="1157.14" y="767" width="16" height="4.5" fill="#54a69a"/><rect x="1175.04" y="764" width="16" height="7.5" fill="#54a69a"/><rect x="1192.93" y="762.25" width="16" height="9.25" fill="#54a69a"/><rect x="1210.83" y="764" width="16" height="7.5" fill="#b5e0da"/><rect x="1228.73" y="763.25" width="16" height="8.25" fill="#54a69a"/><rect x="1246.63" y="764" width="16" height="7.5" fill="#b5e0da"/><rect x="1264.52" y="762" width="16" height="9.5" fill="#54a69a"/><rect x="1282.42" y="757.25" width="16" height="14.25" fill="#54a69a"/><rect x="1300.32" y="757.25" width="16" height="14.25" fill="#54a69a"/><rect x="1318.21" y="759.25" width="16" height="12.25" fill="#b5e0da"/><rect x="1336.11" y="761" width="16" height="10.5" fill="#b5e0da"/><rect x="1354.01" y="761" width="16" height="10.5" fill="#b5e0da"/><rect x="1371.9" y="764" width="16" height="7.5" fill="#b5e0da"/><rect x="1389.8" y="767" width="16" height="4.5" fill="#b5e0da"/><rect x="1407.7" y="768" width="16" height="3.5" fill="#b5e0da"/><rect x="1425.6" y="771.5" width="16" height="2" fill="#ec6059"/><rect x="1443.49" y="771.5" width="16" height="6" fill="#ec6059"/><rect x="1461.39" y="771.5" width="16" height="5" fill="#f8cdd2"/><rect x="1479.29" y="771.5" width="16" height="3" fill="#f8cdd2"/><rect x="1497.18" y="771.5" width="16" height="3" fill="#f8cdd2"/><rect x="1515.08" y="771.5" width="16" height="3" fill="#f8cdd2"/><rect x="1532.98" y="771.5" width="16" height="2" fill="#f8cdd2"/><rect x="1550.87" y="771.5" width="16" height="2" fill="#ec6059"/><rect x="1568.77" y="771.5" width="16" height="3" fill="#ec6059"/><rect x="1586.67" y="771.5" width="16" height="1.25" fill="#f8cdd2"/><rect x="1604.57" y="769" width="16" height="2.5" fill="#54a69a"/><rect x="1622.46" y="767" width="16" height="4.5" fill="#54a69a"/><rect x="1640.36" y="766" width="16" height="5.5" fill="#54a69a"/><rect x="1658.26" y="765" width="16" height="6.5" fill="#54a69a"/><rect x="1676.15" y="765" width="16" height="6.5" fill="#54a69a"/><rect x="1694.05" y="761" width="16" height="10.5" fill="#54a69a"/><rect x="1711.95" y="756.25" width="16" height="15.25" fill="#54a69a"/><rect x="1729.84" y="754.25" width="16" height="17.25" fill="#54a69a"/><rect x="1747.74" y="751.5" width="16" height="20" fill="#54a69a"/><rect x="1765.64" y="748.5" width="16" height="23" fill="#54a69a"/><rect x="1783.54" y="747.5" width="16" height="24" fill="#54a69a"/><rect x="1801.43" y="750.5" width="16" height="21" fill="#b5e0da"/><rect x="1819.33" y="754.25" width="16" height="17.25" fill="#b5e0da"/><rect x="1837.23" y="757.25" width="16" height="14.25" fill="#b5e0da"/><rect x="1855.12" y="759.25" width="16" height="12.25" fill="#b5e0da"/><rect x="1873.02" y="761" width="16" height="10.5" fill="#b5e0da"/><rect x="1890.92" y="765" width="16" height="6.5" fill="#b5e0da"/><rect x="1908.81" y="757.25" width="16" height="14.25" fill="#54a69a"/><rect x="1926.71" y="756.25" width="16" height="15.25" fill="#54a69a"/><rect x="1944.61" y="758.25" width="16" height="13.25" fill="#b5e0da"/><rect x="1962.51" y="761" width="16" height="10.5" fill="#b5e0da"/><rect x="1980.4" y="762" width="16" height="9.5" fill="#b5e0da"/><rect x="1998.3" y="767" width="16" height="4.5" fill="#b5e0da"/><rect x="2016.2" y="770.75" width="16" height="0.8" fill="#b5e0da"/><rect x="2034.09" y="771.5" width="16" height="6" fill="#ec6059"/><rect x="2051.99" y="771.5" width="16" height="8.75" fill="#ec6059"/><rect x="2069.89" y="771.5" width="16" height="9.75" fill="#ec6059"/><rect x="2087.79" y="771.5" width="16" height="10.75" fill="#ec6059"/><rect x="2105.68" y="771.5" width="16" height="11.75" fill="#ec6059"/><rect x="2123.58" y="771.5" width="16" height="13.5" fill="#ec6059"/><rect x="2141.48" y="771.5" width="16" height="12.5" fill="#f8cdd2"/><rect x="2159.37" y="771.5" width="16" height="11.75" fill="#f8cdd2"/><rect x="2177.27" y="771.5" width="16" height="9.75" fill="#f8cdd2"/><rect x="2195.17" y="771.5" width="16" height="13.5" fill="#ec6059"/><rect x="2213.06" y="771.5" width="16" height="15.5" fill="#ec6059"/></g>
<line x1="-1.94" x2="2425" y1="771.5" y2="771.5" stroke="#6e6e72" stroke-opacity="0.62" stroke-width="2" stroke-dasharray="9.7 11.44"/>
<polyline points="1.54,783.75 19.43,791.5 37.33,798.25 55.23,803.25 73.12,804 91.02,802.5 108.92,800.25 126.82,797.75 144.71,794.5 162.61,792 180.51,789 198.4,787 216.3,794 234.2,808.25 252.09,825.75 269.99,840.75 287.89,856.25 305.78,872 323.68,887 341.58,901.5 359.48,914.5 377.37,924.5 395.27,932 413.17,937.75 431.06,941.5 448.96,943.75 466.86,943.75 484.75,941.5 502.65,937 520.55,932 538.45,926.5 556.34,920.75 574.24,915.75 592.14,912 610.03,908.25 627.93,904.5 645.83,902.75 663.72,902 681.62,901.25 699.52,900.75 717.42,897 735.31,891.5 753.21,884.5 771.11,875.75 789,869 806.9,862.5 824.8,857 842.69,853.25 860.59,849.75 878.49,847 896.39,844.75 914.28,843 932.18,841 950.08,839.5 967.97,840.25 985.87,842.75 1003.77,845.75 1021.66,848.25 1039.56,849.75 1057.46,850.5 1075.36,850 1093.25,849 1111.15,847.75 1129.05,846.25 1146.94,845.5 1164.84,844.5 1182.74,842.5 1200.63,840.25 1218.53,838.5 1236.43,836.25 1254.33,834.5 1272.22,832 1290.12,828.75 1308.02,825.25 1325.91,822.25 1343.81,819.75 1361.71,817.25 1379.6,815.5 1397.5,814 1415.4,813.25 1433.3,813.5 1451.19,814.75 1469.09,815.75 1486.99,816.5 1504.88,817.25 1522.78,817.75 1540.68,818 1558.57,818.5 1576.47,819 1594.37,819 1612.27,818 1630.16,817 1648.06,815.75 1665.96,814 1683.85,812.5 1701.75,809.5 1719.65,806 1737.54,801 1755.44,795.75 1773.34,790.25 1791.24,784.5 1809.13,779.5 1827.03,775.75 1844.93,772.5 1862.82,769.25 1880.72,766.5 1898.62,764.5 1916.51,760.75 1934.41,757.5 1952.31,754.5 1970.21,752 1988.1,749.75 2006,748.75 2023.9,748.75 2041.79,750 2059.69,751.5 2077.59,753.75 2095.49,756.5 2113.38,759.25 2131.28,762.5 2149.18,765.75 2167.07,768.5 2184.97,771 2202.87,774 2220.76,777.5" fill="none" stroke="#e87220" stroke-width="2.1" stroke-linejoin="round" stroke-linecap="round"/>
<polyline points="1.54,818.25 19.43,821.25 37.33,825 55.23,820 73.12,807 91.02,796.25 108.92,792.5 126.82,790.25 144.71,780 162.61,780.75 180.51,778.25 198.4,780.25 216.3,822 234.2,864.5 252.09,889.5 269.99,903.25 287.89,917 305.78,930.75 323.68,944.5 341.58,960 359.48,966.5 377.37,966.5 395.27,961.5 413.17,959.5 431.06,957.75 448.96,952 466.86,942.5 484.75,932.5 502.65,920.75 520.55,911.25 538.45,905 556.34,898.25 574.24,900 592.14,900 610.03,895 627.93,888.25 645.83,895.25 663.72,900.75 681.62,898.5 699.52,896.5 717.42,881.25 735.31,869.5 753.21,858.25 771.11,844.5 789,841.25 806.9,838.25 824.8,837 842.69,838.25 860.59,835.5 878.49,834.5 896.39,836.25 914.28,834.25 932.18,832.5 950.08,833.25 967.97,843.75 985.87,852 1003.77,858 1021.66,858.5 1039.56,856.5 1057.46,854 1075.36,849.5 1093.25,844.5 1111.15,841.5 1129.05,839.75 1146.94,843.5 1164.84,840.25 1182.74,834.5 1200.63,831.25 1218.53,831.5 1236.43,828.25 1254.33,827.5 1272.22,823.25 1290.12,814.75 1308.02,811.25 1325.91,809.75 1343.81,809.5 1361.71,807 1379.6,807.5 1397.5,809 1415.4,810.25 1433.3,814.5 1451.19,819.75 1469.09,819.5 1486.99,819 1504.88,819.5 1522.78,819.25 1540.68,819 1558.57,819.25 1576.47,821.5 1594.37,819.5 1612.27,815 1630.16,812 1648.06,810 1665.96,807.75 1683.85,806.25 1701.75,798.25 1719.65,791 1737.54,783.25 1755.44,776 1773.34,769 1791.24,761.75 1809.13,759.5 1827.03,758.75 1844.93,758 1862.82,756.5 1880.72,756.75 1898.62,758.25 1916.51,747.75 1934.41,743 1952.31,742 1970.21,741.25 1988.1,739.75 2006,744 2023.9,749 2041.79,755.5 2059.69,759.75 2077.59,763.5 2095.49,767 2113.38,770.5 2131.28,775.75 2149.18,778 2167.07,779 2184.97,779 2202.87,786.25 2220.76,792.5" fill="none" stroke="#3561f2" stroke-width="2.1" stroke-linejoin="round" stroke-linecap="round"/>
<line x1="-1.94" x2="2422" y1="1020.6" y2="1020.6" stroke="#8b8b95" stroke-width="2" stroke-dasharray="9.7 11.44"/>
<line x1="-1.94" x2="2422" y1="1125" y2="1125" stroke="#4c4c55" stroke-width="2" stroke-dasharray="9.7 11.44"/>
<line x1="-1.94" x2="2422" y1="1228.7" y2="1228.7" stroke="#8b8b95" stroke-width="2" stroke-dasharray="9.7 11.44"/>
<clipPath id="osc"><rect x="0" y="1228.7" width="2425" height="60"/></clipPath>
<polygon clip-path="url(#osc)" fill="#090101" points="1.54,1228.7 1.54,1161.25 19.43,1166.75 37.33,1169.5 55.23,1136.5 73.12,1101.75 91.02,1107 108.92,1123.25 126.82,1130 144.71,1098 162.61,1134.5 180.51,1120.25 198.4,1138 216.3,1231 234.2,1249 252.09,1231 269.99,1213.25 287.89,1218.75 305.78,1229 323.68,1238.75 341.58,1242 359.48,1236.25 377.37,1226.25 395.27,1217 413.17,1222.5 431.06,1229.25 448.96,1215 466.86,1199.5 484.75,1200.75 502.65,1181.25 520.55,1190.75 538.45,1200.5 556.34,1195.75 574.24,1221 592.14,1222 610.03,1198.5 627.93,1193.25 645.83,1235.75 663.72,1240 681.62,1205.75 699.52,1210.75 717.42,1147.5 735.31,1148.25 753.21,1143 771.11,1127.5 789,1160.5 806.9,1165.75 824.8,1173.75 842.69,1183 860.59,1167.75 878.49,1175 896.39,1189.5 914.28,1170 932.18,1174.25 950.08,1187 967.97,1226.25 985.87,1230.5 1003.77,1230.5 1021.66,1205 1039.56,1196.25 1057.46,1195 1075.36,1180 1093.25,1182 1111.15,1188 1129.05,1197 1146.94,1226.25 1164.84,1176.25 1182.74,1161.75 1200.63,1170.5 1218.53,1189.5 1236.43,1168.75 1254.33,1179.5 1272.22,1157 1290.12,1127 1308.02,1147.5 1325.91,1158 1343.81,1165 1361.71,1152 1379.6,1171.25 1397.5,1180 1415.4,1180 1433.3,1203.75 1451.19,1217 1469.09,1178.75 1486.99,1180.75 1504.88,1188.75 1522.78,1190 1540.68,1191.25 1558.57,1200.75 1576.47,1215 1594.37,1178 1612.27,1156.25 1630.16,1163.25 1648.06,1171 1665.96,1163.75 1683.85,1171 1701.75,1110.75 1719.65,1095.5 1737.54,1087 1755.44,1070 1773.34,1055.75 1791.24,1052.75 1809.13,1089.5 1827.03,1096.25 1844.93,1096.25 1862.82,1088.25 1880.72,1097 1898.62,1115.5 1916.51,1022.5 1934.41,1058.75 1952.31,1077.5 1970.21,1080.5 1988.1,1069.75 2006,1116.5 2023.9,1123.75 2041.79,1154.5 2059.69,1139.75 2077.59,1141.75 2095.49,1147 2113.38,1148.75 2131.28,1177.5 2149.18,1150.75 2167.07,1144.25 2184.97,1144.25 2202.87,1197 2220.76,1203.75 2220.76,1228.7"/>
<polyline points="1.54,1161.25 19.43,1166.75 37.33,1169.5 55.23,1136.5 73.12,1101.75 91.02,1107 108.92,1123.25 126.82,1130 144.71,1098 162.61,1134.5 180.51,1120.25 198.4,1138 216.3,1231 234.2,1249 252.09,1231 269.99,1213.25 287.89,1218.75 305.78,1229 323.68,1238.75 341.58,1242 359.48,1236.25 377.37,1226.25 395.27,1217 413.17,1222.5 431.06,1229.25 448.96,1215 466.86,1199.5 484.75,1200.75 502.65,1181.25 520.55,1190.75 538.45,1200.5 556.34,1195.75 574.24,1221 592.14,1222 610.03,1198.5 627.93,1193.25 645.83,1235.75 663.72,1240 681.62,1205.75 699.52,1210.75 717.42,1147.5 735.31,1148.25 753.21,1143 771.11,1127.5 789,1160.5 806.9,1165.75 824.8,1173.75 842.69,1183 860.59,1167.75 878.49,1175 896.39,1189.5 914.28,1170 932.18,1174.25 950.08,1187 967.97,1226.25 985.87,1230.5 1003.77,1230.5 1021.66,1205 1039.56,1196.25 1057.46,1195 1075.36,1180 1093.25,1182 1111.15,1188 1129.05,1197 1146.94,1226.25 1164.84,1176.25 1182.74,1161.75 1200.63,1170.5 1218.53,1189.5 1236.43,1168.75 1254.33,1179.5 1272.22,1157 1290.12,1127 1308.02,1147.5 1325.91,1158 1343.81,1165 1361.71,1152 1379.6,1171.25 1397.5,1180 1415.4,1180 1433.3,1203.75 1451.19,1217 1469.09,1178.75 1486.99,1180.75 1504.88,1188.75 1522.78,1190 1540.68,1191.25 1558.57,1200.75 1576.47,1215 1594.37,1178 1612.27,1156.25 1630.16,1163.25 1648.06,1171 1665.96,1163.75 1683.85,1171 1701.75,1110.75 1719.65,1095.5 1737.54,1087 1755.44,1070 1773.34,1055.75 1791.24,1052.75 1809.13,1089.5 1827.03,1096.25 1844.93,1096.25 1862.82,1088.25 1880.72,1097 1898.62,1115.5 1916.51,1022.5 1934.41,1058.75 1952.31,1077.5 1970.21,1080.5 1988.1,1069.75 2006,1116.5 2023.9,1123.75 2041.79,1154.5 2059.69,1139.75 2077.59,1141.75 2095.49,1147 2113.38,1148.75 2131.28,1177.5 2149.18,1150.75 2167.07,1144.25 2184.97,1144.25 2202.87,1197 2220.76,1203.75" fill="none" stroke="#7e57c2" stroke-width="2.1" stroke-linejoin="round" stroke-linecap="round"/>
<polyline points="1.54,1135 19.43,1138.25 37.33,1143 55.23,1147 73.12,1149.25 91.02,1149.5 108.92,1151.75 126.82,1153.25 144.71,1149 162.61,1145.75 180.51,1142 198.4,1138 216.3,1142.5 234.2,1148 252.09,1152.5 269.99,1156 287.89,1160 305.78,1166.25 323.68,1175 341.58,1184.5 359.48,1192.5 377.37,1200 395.27,1208.75 413.17,1216.25 431.06,1223.75 448.96,1228 466.86,1225.5 484.75,1222.5 502.65,1219.5 520.55,1217.75 538.45,1216 556.34,1213.75 574.24,1212.5 592.14,1211.25 610.03,1208.75 627.93,1206.25 645.83,1207.75 663.72,1209.25 681.62,1207 699.52,1206.5 717.42,1202.5 735.31,1199 753.21,1196.25 771.11,1191.75 789,1189.25 806.9,1187 824.8,1183.75 842.69,1181.25 860.59,1179 878.49,1177.5 896.39,1173.75 914.28,1169 932.18,1166.75 950.08,1165.25 967.97,1170.5 985.87,1176.75 1003.77,1183.25 1021.66,1188.5 1039.56,1191.25 1057.46,1193 1075.36,1193.75 1093.25,1193.75 1111.15,1195 1129.05,1196.75 1146.94,1199 1164.84,1199.5 1182.74,1198.5 1200.63,1197.25 1218.53,1195 1236.43,1190.5 1254.33,1186.75 1272.22,1183.25 1290.12,1178.25 1308.02,1175.25 1325.91,1173.5 1343.81,1172.25 1361.71,1170 1379.6,1168 1397.5,1164.75 1415.4,1165.25 1433.3,1168.25 1451.19,1171.25 1469.09,1170.75 1486.99,1171.5 1504.88,1172 1522.78,1174.25 1540.68,1178.25 1558.57,1182.5 1576.47,1186.5 1594.37,1187.5 1612.27,1188 1630.16,1187.25 1648.06,1186.5 1665.96,1185.5 1683.85,1183.25 1701.75,1175.5 1719.65,1170 1737.54,1163 1755.44,1154.25 1773.34,1145 1791.24,1135 1809.13,1126.5 1827.03,1118.75 1844.93,1113 1862.82,1107.5 1880.72,1102.5 1898.62,1099.25 1916.51,1089.5 1934.41,1081.25 1952.31,1079 1970.21,1078 1988.1,1076.5 2006,1080 2023.9,1085.5 2041.79,1092.5 2059.69,1095.75 2077.59,1099.25 2095.49,1103 2113.38,1107.5 2131.28,1112.5 2149.18,1115 2167.07,1123.5 2184.97,1129.75 2202.87,1138.75 2220.76,1147.5" fill="none" stroke="#ecd046" stroke-width="2.1" stroke-linejoin="round" stroke-linecap="round"/>
<rect x="0" y="2" width="326" height="126.6" fill="#000" fill-opacity="0.5"/>
<rect x="5.5" y="722" width="601" height="42.6" fill="#000" fill-opacity="0.5"/>
<rect x="5.7" y="1002" width="382.3" height="44.2" fill="#000" fill-opacity="0.5"/>
<circle cx="32.65" cy="24.75" r="17.3" fill="#e83430"/>
<text x="20.32" y="30.5" textLength="23.25" font-size="15.4" fill="#fff" font-weight="700" font-style="italic" lengthAdjust="spacingAndGlyphs" stroke="#fff" stroke-width="0.8" stroke-linejoin="round">OP</text>
<text x="57.93" y="37.3" textLength="134.27" font-size="32" fill="#fff" lengthAdjust="spacingAndGlyphs">Optimism</text>
<text x="199.77" y="37.3" textLength="8.51" font-size="32" fill="#fff" lengthAdjust="spacingAndGlyphs">/</text>
<text x="215.9" y="37.3" textLength="130.23" font-size="32" fill="#fff" lengthAdjust="spacingAndGlyphs">US Dollar</text>
<text x="371.52" y="37.3" textLength="38.72" font-size="32" fill="#fff" lengthAdjust="spacingAndGlyphs">1D</text>
<text x="433.63" y="37.3" textLength="129.92" font-size="32" fill="#fff" lengthAdjust="spacingAndGlyphs">Coinbase</text>
<circle cx="358.2" cy="28.6" r="1.9" fill="#fff"/><circle cx="421.7" cy="28.6" r="1.9" fill="#fff"/>
<circle cx="595.3" cy="25.2" r="17" fill="#0e201c"/><circle cx="595.3" cy="25.2" r="8" fill="#42a28a"/>
<text x="629.57" y="34.9" textLength="18.12" font-size="25.5" fill="#fff" lengthAdjust="spacingAndGlyphs">O</text>
<text x="650.42" y="34.9" textLength="68.69" font-size="25.5" fill="#e5484f" lengthAdjust="spacingAndGlyphs">0.270</text>
<text x="731.21" y="34.9" textLength="18.45" font-size="25.5" fill="#fff" lengthAdjust="spacingAndGlyphs">H</text>
<text x="751.77" y="34.9" textLength="68.59" font-size="25.5" fill="#e5484f" lengthAdjust="spacingAndGlyphs">0.274</text>
<text x="832.26" y="34.9" textLength="13.66" font-size="25.5" fill="#fff" lengthAdjust="spacingAndGlyphs">L</text>
<text x="849.13" y="34.9" textLength="69.61" font-size="25.5" fill="#e5484f" lengthAdjust="spacingAndGlyphs">0.259</text>
<text x="930.25" y="34.9" textLength="17.05" font-size="25.5" fill="#fff" lengthAdjust="spacingAndGlyphs">C</text>
<text x="949.88" y="34.9" textLength="69.29" font-size="25.5" fill="#e5484f" lengthAdjust="spacingAndGlyphs">0.264</text>
<text x="1030.84" y="34.9" textLength="84.12" font-size="25.5" fill="#e5484f" lengthAdjust="spacingAndGlyphs">−0.005</text>
<text x="1123.62" y="34.9" textLength="109.65" font-size="25.5" fill="#e5484f" lengthAdjust="spacingAndGlyphs">(−1.86%)</text>
<rect x="14.3" y="56.7" width="108.5" height="63.3" rx="9" fill="#0f0f0f" stroke="#e4484f" stroke-width="2"/>
<rect x="211.2" y="56.7" width="108.6" height="63.3" rx="9" fill="#0f0f0f" stroke="#3862f6" stroke-width="2"/>
<text x="35.1" y="84" textLength="66.94" font-size="23.7" fill="#e4484f" lengthAdjust="spacingAndGlyphs" stroke="#e4484f" stroke-width="0.7" stroke-linejoin="round">0.264</text>
<text x="41.53" y="109.7" textLength="52.85" font-size="21" fill="#e4484f" lengthAdjust="spacingAndGlyphs">SELL</text>
<text x="231.99" y="84" textLength="66.38" font-size="23.7" fill="#3862f6" lengthAdjust="spacingAndGlyphs" stroke="#3862f6" stroke-width="0.7" stroke-linejoin="round">0.265</text>
<text x="242.2" y="109.7" textLength="44.94" font-size="21" fill="#3862f6" lengthAdjust="spacingAndGlyphs">BUY</text>
<text x="138.96" y="95.4" textLength="54.14" font-size="19" fill="#dcdcdc" lengthAdjust="spacingAndGlyphs">0.001</text>
<text x="16.06" y="161.7" textLength="35.7" font-size="25.5" fill="#fff" lengthAdjust="spacingAndGlyphs">Vol</text>
<circle cx="62.3" cy="154.2" r="1.6" fill="#fff"/>
<text x="72.54" y="161.7" textLength="34.76" font-size="25.5" fill="#fff" lengthAdjust="spacingAndGlyphs">OP</text>
<text x="124.09" y="161.7" textLength="52.08" font-size="25.5" fill="#e0564f" lengthAdjust="spacingAndGlyphs">1.93</text>
<text x="179.44" y="161.7" textLength="22.76" font-size="25.5" fill="#e0564f" lengthAdjust="spacingAndGlyphs">M</text>
<rect x="14.5" y="182" width="53.3" height="37.5" rx="5" fill="#000" stroke="#4b4b4b" stroke-width="2"/>
<polyline points="33.8,204.6 41.3,197.6 48.8,204.6" fill="none" stroke="#ececec" stroke-width="2.6" stroke-linecap="round" stroke-linejoin="round"/>
<text x="15.18" y="751.7" textLength="73.14" font-size="25.5" fill="#fff" lengthAdjust="spacingAndGlyphs">MACD</text>
<text x="94.4" y="751.7" textLength="61.05" font-size="25.5" fill="#fff" lengthAdjust="spacingAndGlyphs">close</text>
<text x="165.15" y="751.7" textLength="29.79" font-size="25.5" fill="#fff" lengthAdjust="spacingAndGlyphs">12</text>
<text x="203.15" y="751.7" textLength="29.62" font-size="25.5" fill="#fff" lengthAdjust="spacingAndGlyphs">26</text>
<text x="241.07" y="751.7" textLength="16.05" font-size="25.5" fill="#fff" lengthAdjust="spacingAndGlyphs">9</text>
<circle cx="290.5" cy="742.3" r="17.2" fill="#0e0524"/>
<g transform="translate(290.5 742.3)"><path d="M-9.8,-3.7 A10.2,10.2 0 0 1 9.4,-4.1" fill="none" stroke="#6229ff" stroke-width="2.9"/><path d="M3.8,-2.4 L13.7,-4.7 L10.2,1.5 Z" fill="#6229ff" stroke="#6229ff" stroke-width="0.6" stroke-linejoin="round"/><g transform="rotate(180)"><path d="M-9.8,-3.7 A10.2,10.2 0 0 1 9.4,-4.1" fill="none" stroke="#6229ff" stroke-width="2.9"/><path d="M3.8,-2.4 L13.7,-4.7 L10.2,1.5 Z" fill="#6229ff" stroke="#6229ff" stroke-width="0.6" stroke-linejoin="round"/></g></g>
<text x="323.54" y="751.7" textLength="84.6" font-size="25.5" fill="#ec5f59" lengthAdjust="spacingAndGlyphs">−0.006</text>
<text x="419.88" y="751.7" textLength="85.03" font-size="25.5" fill="#3561f2" lengthAdjust="spacingAndGlyphs">−0.008</text>
<text x="515.83" y="751.7" textLength="85.84" font-size="25.5" fill="#ee7830" lengthAdjust="spacingAndGlyphs">−0.002</text>
<text x="15.19" y="1032.8" textLength="38.84" font-size="25.5" fill="#fff" lengthAdjust="spacingAndGlyphs">RSI</text>
<text x="60.67" y="1032.8" textLength="29.32" font-size="25.5" fill="#fff" lengthAdjust="spacingAndGlyphs">14</text>
<text x="98.84" y="1032.8" textLength="61.64" font-size="25.5" fill="#fff" lengthAdjust="spacingAndGlyphs">close</text>
<circle cx="193.1" cy="1023.2" r="17.2" fill="#0e0524"/>
<g transform="translate(193.1 1023.2)"><path d="M-9.8,-3.7 A10.2,10.2 0 0 1 9.4,-4.1" fill="none" stroke="#6229ff" stroke-width="2.9"/><path d="M3.8,-2.4 L13.7,-4.7 L10.2,1.5 Z" fill="#6229ff" stroke="#6229ff" stroke-width="0.6" stroke-linejoin="round"/><g transform="rotate(180)"><path d="M-9.8,-3.7 A10.2,10.2 0 0 1 9.4,-4.1" fill="none" stroke="#6229ff" stroke-width="2.9"/><path d="M3.8,-2.4 L13.7,-4.7 L10.2,1.5 Z" fill="#6229ff" stroke="#6229ff" stroke-width="0.6" stroke-linejoin="round"/></g></g>
<text x="226.1" y="1032.8" textLength="69.21" font-size="25.5" fill="#7e57c2" lengthAdjust="spacingAndGlyphs">34.98</text>
<text x="306.89" y="1032.8" textLength="68.67" font-size="25.5" fill="#ecd046" lengthAdjust="spacingAndGlyphs">45.77</text>
<g stroke="#121212" stroke-width="6" stroke-linejoin="round" fill="#dedede" paint-order="stroke">
<path d="M21.4,1216.6 H43 V1245.5 H32 V1228.3 H21.4 Z"/>
<circle cx="53.6" cy="1222" r="5.2"/>
<path d="M64.8,1216.6 H78.1 L66.4,1245.5 H53.1 Z"/>
</g>
<text x="92.11" y="1245.5" textLength="231.09" font-size="40.4" fill="#dedede" font-weight="700" lengthAdjust="spacingAndGlyphs" stroke="#121212" stroke-width="6" stroke-linejoin="round" paint-order="stroke">TradingView</text>
<rect x="2425.3" y="0" width="134.7" height="1326" fill="#000"/>
<text x="2442.93" y="109.2" textLength="64.25" font-size="23.7" fill="#ededed" lengthAdjust="spacingAndGlyphs">0.500</text>
<text x="2442.93" y="197.7" textLength="64.25" font-size="23.7" fill="#ededed" lengthAdjust="spacingAndGlyphs">0.450</text>
<text x="2442.93" y="286.2" textLength="64.25" font-size="23.7" fill="#ededed" lengthAdjust="spacingAndGlyphs">0.400</text>
<text x="2442.93" y="374.7" textLength="64.25" font-size="23.7" fill="#ededed" lengthAdjust="spacingAndGlyphs">0.350</text>
<text x="2442.93" y="463.2" textLength="64.25" font-size="23.7" fill="#ededed" lengthAdjust="spacingAndGlyphs">0.300</text>
<text x="2442.89" y="640.3" textLength="64.37" font-size="23.7" fill="#ededed" lengthAdjust="spacingAndGlyphs">0.200</text>
<rect x="2434.3" y="3" width="121" height="47.6" rx="6" fill="#0f0f0f" stroke="#474747" stroke-width="2"/>
<text x="2440.18" y="35.9" textLength="48.98" font-size="23.7" fill="#e0e0e0" lengthAdjust="spacingAndGlyphs">USD</text>
<polyline points="2537.2,24.9 2541.7,29.4 2546.2,24.9" fill="none" stroke="#e0e0e0" stroke-width="2.3" stroke-linecap="round" stroke-linejoin="round"/>
<path d="M2427.2,501.5 H2550.5 a3.5,3.5 0 0 1 3.5,3.5 V557.6 a3.5,3.5 0 0 1 -3.5,3.5 H2427.2 Z" fill="#de4850"/>
<text x="2442.92" y="526" textLength="64.8" font-size="23.7" fill="#fff" lengthAdjust="spacingAndGlyphs">0.264</text>
<text x="2442.9" y="553" textLength="100.34" font-size="23.7" fill="#fff" lengthAdjust="spacingAndGlyphs" fill-opacity="0.78">09:49:15</text>
<path d="M2427.1,661.1 H2523.6 a3.5,3.5 0 0 1 3.5,3.5 V690.3 a3.5,3.5 0 0 1 -3.5,3.5 H2427.1 Z" fill="#df5d56"/>
<text x="2443.98" y="685.2" textLength="48.26" font-size="23.7" fill="#fff" lengthAdjust="spacingAndGlyphs">1.93</text>
<text x="2496.39" y="685.2" textLength="20.68" font-size="23.7" fill="#fff" lengthAdjust="spacingAndGlyphs">M</text>
<path d="M2427.2,736.8 H2529.5 a3.5,3.5 0 0 1 3.5,3.5 V766.5 a3.5,3.5 0 0 1 -3.5,3.5 H2427.2 Z" fill="#ee7830"/>
<path d="M2427.2,770 H2529.5 a3.5,3.5 0 0 1 3.5,3.5 V799 a3.5,3.5 0 0 1 -3.5,3.5 H2427.2 Z" fill="#ec5f59"/>
<path d="M2427.2,802.5 H2529.5 a3.5,3.5 0 0 1 3.5,3.5 V831.5 a3.5,3.5 0 0 1 -3.5,3.5 H2427.2 Z" fill="#3963f5"/>
<text x="2442.73" y="761.9" textLength="79.59" font-size="23.7" fill="#fff" lengthAdjust="spacingAndGlyphs">−0.002</text>
<text x="2442.73" y="794.7" textLength="79.56" font-size="23.7" fill="#fff" lengthAdjust="spacingAndGlyphs">−0.006</text>
<text x="2442.73" y="827.2" textLength="79.56" font-size="23.7" fill="#fff" lengthAdjust="spacingAndGlyphs">−0.008</text>
<text x="2442.73" y="903.2" textLength="79.41" font-size="23.7" fill="#ededed" lengthAdjust="spacingAndGlyphs">−0.050</text>
<text x="2442.31" y="1081.7" textLength="65.25" font-size="23.7" fill="#ededed" lengthAdjust="spacingAndGlyphs">60.00</text>
<text x="2443.21" y="1186.7" textLength="64.2" font-size="23.7" fill="#ededed" lengthAdjust="spacingAndGlyphs">40.00</text>
<path d="M2427.3,1131 H2514.4 a3.5,3.5 0 0 1 3.5,3.5 V1160.3 a3.5,3.5 0 0 1 -3.5,3.5 H2427.3 Z" fill="#f7dc5b"/>
<text x="2443.24" y="1155.9" textLength="64.8" font-size="23.7" fill="#141414" lengthAdjust="spacingAndGlyphs">45.77</text>
<path d="M2427.3,1187.3 H2514.4 a3.5,3.5 0 0 1 3.5,3.5 V1216.1 a3.5,3.5 0 0 1 -3.5,3.5 H2427.3 Z" fill="#7b5abf"/>
<text x="2442.42" y="1212" textLength="65.52" font-size="23.7" fill="#fff" lengthAdjust="spacingAndGlyphs">34.98</text>
<rect x="0" y="709.3" width="2560" height="2" fill="#e6e8f2"/>
<rect x="0" y="990.9" width="2560" height="2" fill="#e6e8f2"/>
<rect x="0" y="1325.7" width="2560" height="4.3" fill="#fff"/>
<text x="35.06" y="1309" textLength="40.35" font-size="23.7" fill="#ededed" lengthAdjust="spacingAndGlyphs">Oct</text>
<text x="587.88" y="1309" textLength="43.5" font-size="23.7" fill="#ededed" lengthAdjust="spacingAndGlyphs">Nov</text>
<text x="1124.86" y="1309" textLength="43.72" font-size="23.7" fill="#ededed" lengthAdjust="spacingAndGlyphs">Dec</text>
<text x="2235.88" y="1309" textLength="41.13" font-size="23.7" fill="#ededed" lengthAdjust="spacingAndGlyphs">Feb</text>
<text x="1671.65" y="1309" textLength="60.78" font-size="23.7" fill="#fff" font-weight="700" lengthAdjust="spacingAndGlyphs">2026</text>
<path d="M2481.6,1300.2 L2488.3,1288.5 H2502.7 L2509.6,1300.2 L2502.7,1312 H2488.3 Z" fill="none" stroke="#d7d7d7" stroke-width="2.1" stroke-linejoin="round"/>
<circle cx="2495.6" cy="1300.2" r="3.8" fill="none" stroke="#d7d7d7" stroke-width="2"/>
<g transform="translate(2310.3 684.1)">
<circle r="19.5" fill="#000" stroke="#e7494d" stroke-width="2.6"/>
<clipPath id="fc2310"><circle r="15.6"/></clipPath>
<g clip-path="url(#fc2310)">
<rect x="-16" y="-16" width="32" height="32" fill="#e05d54"/>
<rect x="-16" y="-8.5" width="32" height="5.3" fill="#f5f5fa"/><rect x="-16" y="3.2" width="32" height="6" fill="#f5f5fa"/>
<rect x="-16" y="-16" width="18.6" height="19.2" fill="#3e82dc"/>
<rect x="-13.3" y="-12.2" width="2.6" height="2.6" fill="#f5f5fa"/>
<rect x="-13.3" y="-7.3" width="2.6" height="2.6" fill="#f5f5fa"/>
<rect x="-13.3" y="-2.4" width="2.6" height="2.6" fill="#f5f5fa"/>
<rect x="-8.1" y="-12.2" width="2.6" height="2.6" fill="#f5f5fa"/>
<rect x="-8.1" y="-7.3" width="2.6" height="2.6" fill="#f5f5fa"/>
<rect x="-8.1" y="-2.4" width="2.6" height="2.6" fill="#f5f5fa"/>
<rect x="-2.8" y="-12.2" width="2.6" height="2.6" fill="#f5f5fa"/>
<rect x="-2.8" y="-7.3" width="2.6" height="2.6" fill="#f5f5fa"/>
<rect x="-2.8" y="-2.4" width="2.6" height="2.6" fill="#f5f5fa"/>
</g></g>
<g transform="translate(2292.3 684.1)">
<circle r="19.5" fill="#000" stroke="#e7494d" stroke-width="2.6"/>
<clipPath id="fc2292"><circle r="15.6"/></clipPath>
<g clip-path="url(#fc2292)">
<rect x="-16" y="-16" width="32" height="32" fill="#e05d54"/>
<rect x="-16" y="-8.5" width="32" height="5.3" fill="#f5f5fa"/><rect x="-16" y="3.2" width="32" height="6" fill="#f5f5fa"/>
<rect x="-16" y="-16" width="18.6" height="19.2" fill="#3e82dc"/>
<rect x="-13.3" y="-12.2" width="2.6" height="2.6" fill="#f5f5fa"/>
<rect x="-13.3" y="-7.3" width="2.6" height="2.6" fill="#f5f5fa"/>
<rect x="-13.3" y="-2.4" width="2.6" height="2.6" fill="#f5f5fa"/>
<rect x="-8.1" y="-12.2" width="2.6" height="2.6" fill="#f5f5fa"/>
<rect x="-8.1" y="-7.3" width="2.6" height="2.6" fill="#f5f5fa"/>
<rect x="-8.1" y="-2.4" width="2.6" height="2.6" fill="#f5f5fa"/>
<rect x="-2.8" y="-12.2" width="2.6" height="2.6" fill="#f5f5fa"/>
<rect x="-2.8" y="-7.3" width="2.6" height="2.6" fill="#f5f5fa"/>
<rect x="-2.8" y="-2.4" width="2.6" height="2.6" fill="#f5f5fa"/>
</g></g>
<g transform="translate(2274 684.1)">
<circle r="19.5" fill="#000" stroke="#e7494d" stroke-width="2.6"/>
<clipPath id="fc2274"><circle r="15.6"/></clipPath>
<g clip-path="url(#fc2274)">
<rect x="-16" y="-16" width="32" height="32" fill="#e05d54"/>
<rect x="-16" y="-8.5" width="32" height="5.3" fill="#f5f5fa"/><rect x="-16" y="3.2" width="32" height="6" fill="#f5f5fa"/>
<rect x="-16" y="-16" width="18.6" height="19.2" fill="#3e82dc"/>
<rect x="-13.3" y="-12.2" width="2.6" height="2.6" fill="#f5f5fa"/>
<rect x="-13.3" y="-7.3" width="2.6" height="2.6" fill="#f5f5fa"/>
<rect x="-13.3" y="-2.4" width="2.6" height="2.6" fill="#f5f5fa"/>
<rect x="-8.1" y="-12.2" width="2.6" height="2.6" fill="#f5f5fa"/>
<rect x="-8.1" y="-7.3" width="2.6" height="2.6" fill="#f5f5fa"/>
<rect x="-8.1" y="-2.4" width="2.6" height="2.6" fill="#f5f5fa"/>
<rect x="-2.8" y="-12.2" width="2.6" height="2.6" fill="#f5f5fa"/>
<rect x="-2.8" y="-7.3" width="2.6" height="2.6" fill="#f5f5fa"/>
<rect x="-2.8" y="-2.4" width="2.6" height="2.6" fill="#f5f5fa"/>
</g></g>
<g transform="translate(2221 684.1)">
<circle r="19.5" fill="#000" stroke="#e7494d" stroke-width="2.6"/>
<clipPath id="fc2221"><circle r="15.6"/></clipPath>
<g clip-path="url(#fc2221)">
<rect x="-16" y="-16" width="32" height="32" fill="#e05d54"/>
<rect x="-16" y="-8.5" width="32" height="5.3" fill="#f5f5fa"/><rect x="-16" y="3.2" width="32" height="6" fill="#f5f5fa"/>
<rect x="-16" y="-16" width="18.6" height="19.2" fill="#3e82dc"/>
<rect x="-13.3" y="-12.2" width="2.6" height="2.6" fill="#f5f5fa"/>
<rect x="-13.3" y="-7.3" width="2.6" height="2.6" fill="#f5f5fa"/>
<rect x="-13.3" y="-2.4" width="2.6" height="2.6" fill="#f5f5fa"/>
<rect x="-8.1" y="-12.2" width="2.6" height="2.6" fill="#f5f5fa"/>
<rect x="-8.1" y="-7.3" width="2.6" height="2.6" fill="#f5f5fa"/>
<rect x="-8.1" y="-2.4" width="2.6" height="2.6" fill="#f5f5fa"/>
<rect x="-2.8" y="-12.2" width="2.6" height="2.6" fill="#f5f5fa"/>
<rect x="-2.8" y="-7.3" width="2.6" height="2.6" fill="#f5f5fa"/>
<rect x="-2.8" y="-2.4" width="2.6" height="2.6" fill="#f5f5fa"/>
</g></g>
<g transform="translate(2221.7 636.7)">
<circle r="19.6" fill="#000"/>
<circle r="18.3" fill="#0e0c0e" stroke="#a34cc4" stroke-width="2.3"/>
<path d="M5.3,-9.5 L-9.2,1.3 H-0.5 L-6.8,10.5 L7.7,-0.4 H-0.75 Z" fill="#a34cc4"/>
</g>
<path transform="translate(2200.45 643.8)" d="M0,-10 C1.6,-4 4,-1.6 10,0 C4,1.6 1.6,4 0,10 C-1.6,4 -4,1.6 -10,0 C-4,-1.6 -1.6,-4 0,-10 Z" fill="#6b4bfa" stroke="#000" stroke-width="4" paint-order="stroke" stroke-linejoin="round"/>
</svg>
</body></html>
